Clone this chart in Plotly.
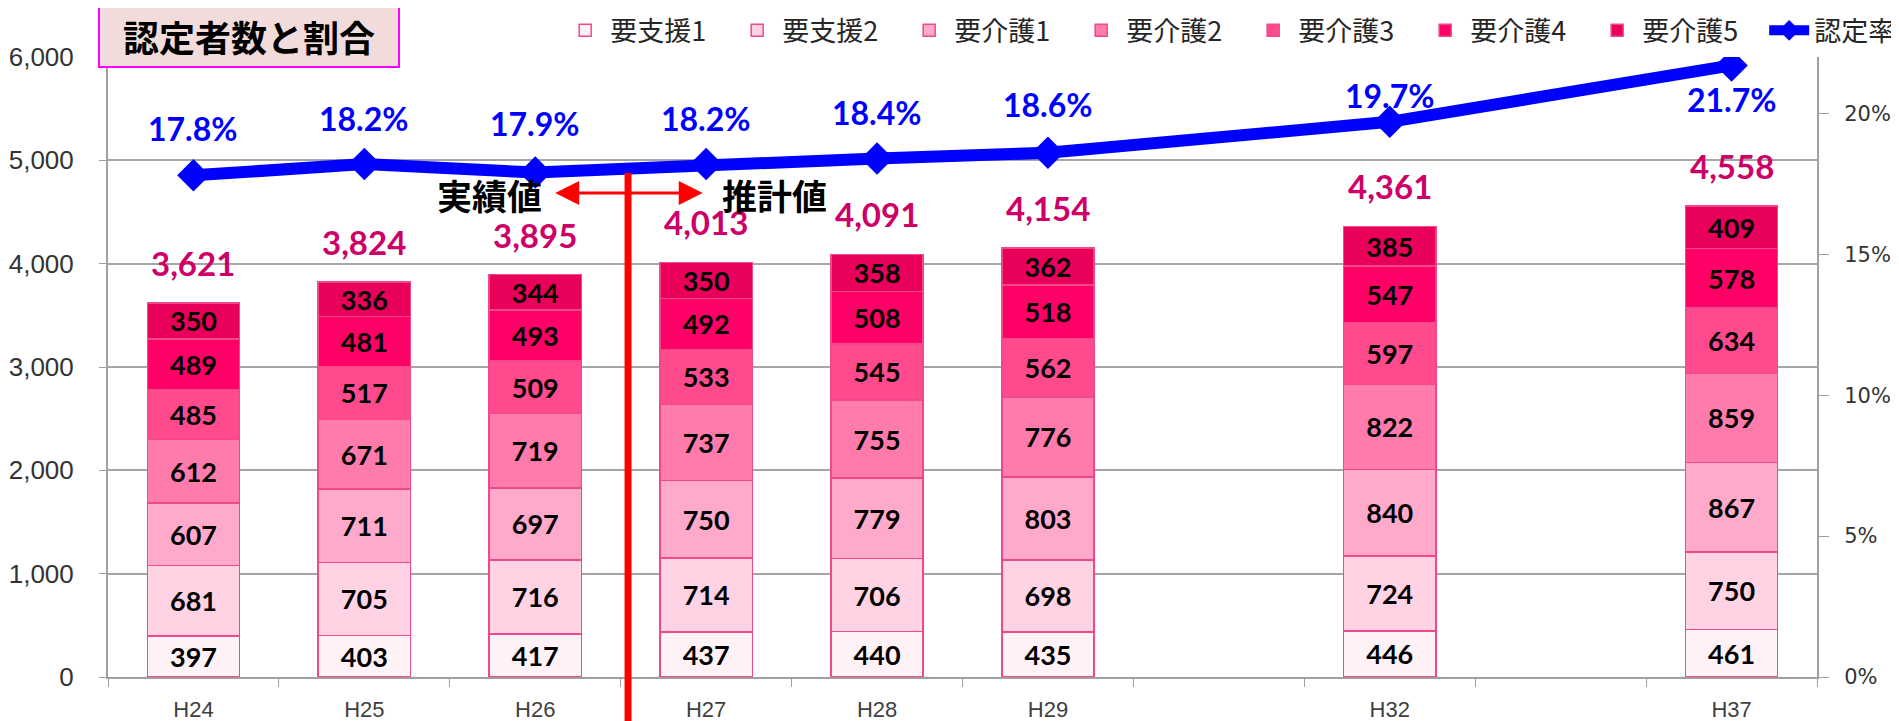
import numpy as np
import plotly.graph_objects as go

# ---------------- data ----------------
slots = ["H24", "H25", "H26", "H27", "H28", "H29", " ", "H32", "  ", "H37"]
years = ["H24", "H25", "H26", "H27", "H28", "H29", "H32", "H37"]

series_names = ["要支援1", "要支援2", "要介護1", "要介護2", "要介護3", "要介護4", "要介護5"]
shien1 = [397, 403, 417, 437, 440, 435, 446, 461]
shien2 = [681, 705, 716, 714, 706, 698, 724, 750]
kaigo1 = [607, 711, 697, 750, 779, 803, 840, 867]
kaigo2 = [612, 671, 719, 737, 755, 776, 822, 859]
kaigo3 = [485, 517, 509, 533, 545, 562, 597, 634]
kaigo4 = [489, 481, 493, 492, 508, 518, 547, 578]
kaigo5 = [350, 336, 344, 350, 358, 362, 385, 409]
rate_pct = [17.8, 18.2, 17.9, 18.2, 18.4, 18.6, 19.7, 21.7]
rate_name = "認定率"

series_values = [shien1, shien2, kaigo1, kaigo2, kaigo3, kaigo4, kaigo5]
totals = np.sum(np.array(series_values), axis=0)

# ---------------- style ----------------
colors = ["#FFF2F7", "#FFD3E4", "#FFA9CB", "#FF7BAC", "#FF4B8D", "#FF0066", "#E8005A"]
edge = "#F0488A"
pct_shift = [47, 46, 49, 46, 46, 48, 26, -34]
LAT = "Lato, Noto Sans CJK JP, sans-serif"
JP = "Noto Sans CJK JP, sans-serif"

# the page body adds an 8px margin, so the figure is 8px smaller than the window
W, H = 1891, 713

fig = go.Figure()
for name, vals, col in zip(series_names, series_values, colors):
    fig.add_trace(go.Bar(
        name=name, x=years, y=vals,
        marker=dict(color=col, line=dict(color=edge, width=1.5)),
        width=0.54,
        text=vals, texttemplate="%{text}", textposition="inside",
        insidetextanchor="middle", textangle=0, constraintext="none",
        textfont=dict(family=LAT, size=27, color="black", weight="bold"),
        hoverinfo="skip",
    ))

fig.add_trace(go.Scatter(
    name=rate_name, x=years, y=[v / 100 for v in rate_pct], yaxis="y2",
    mode="lines+markers",
    line=dict(color="#0000FF", width=12),
    marker=dict(symbol="diamond", size=25, color="#0000FF"),
    hoverinfo="skip",
))

annotations = []
for yr, tot in zip(years, totals):
    annotations.append(dict(
        x=yr, y=int(tot), xref="x", yref="y", text=f"{int(tot):,}",
        showarrow=False, yshift=40, yanchor="middle",
        font=dict(family=LAT, size=33, color="#CC0066", weight="bold"),
    ))
for yr, r, s in zip(years, rate_pct, pct_shift):
    annotations.append(dict(
        x=yr, y=r / 100, xref="x", yref="y2", text=f"{r:.1f}%",
        showarrow=False, yshift=s, yanchor="middle",
        font=dict(family=LAT, size=32, color="#0000FF", weight="bold"),
    ))

# title box
annotations.append(dict(
    xref="paper", yref="paper", x=-0.006, y=1.087, xanchor="left", yanchor="top",
    text="<b>認定者数と割合</b>", showarrow=False,
    font=dict(family=JP, size=36, color="black"),
    bgcolor="#F2DCDB", bordercolor="#FF00FF", borderwidth=2, borderpad=2,
    width=294, height=57, align="center", valign="middle",
))
# arrow between 実績値 and 推計値
annotations.append(dict(
    x=2.98, y=4684, xref="x", yref="y", ax=2.108, ay=4684, axref="x", ayref="y",
    text="", showarrow=True, arrowhead=2, arrowside="end+start",
    arrowsize=1.6, arrowwidth=3, arrowcolor="#FF0000",
))
annotations.append(dict(
    x=1.73, y=4670, xref="x", yref="y", text="<b>実績値</b>", showarrow=False,
    font=dict(family=JP, size=35, color="black"),
))
annotations.append(dict(
    x=3.40, y=4670, xref="x", yref="y", text="<b>推計値</b>", showarrow=False,
    font=dict(family=JP, size=35, color="black"),
))

shapes = [dict(
    type="line", xref="paper", yref="paper", x0=0.3043, x1=0.3043, y0=-0.12, y1=0.813,
    line=dict(color="#FF0000", width=7),
)]

fig.update_layout(
    width=W, height=H,
    margin=dict(l=100, r=82, t=49, b=44, autoexpand=False),
    barmode="stack",
    plot_bgcolor="white", paper_bgcolor="white",
    font=dict(family=LAT, color="#404040"),
    showlegend=True,
    legend=dict(
        orientation="h", xref="container", yref="container",
        x=0.292, xanchor="left", y=0.968, yanchor="middle",
        traceorder="normal", font=dict(family=JP, size=27, color="#262626"),
        itemwidth=40, entrywidth=117, entrywidthmode="pixels",
        bgcolor="rgba(0,0,0,0)",
    ),
    xaxis=dict(
        type="category", categoryorder="array", categoryarray=slots,
        range=[-0.5, len(slots) - 0.5],
        tickson="boundaries", ticks="outside", ticklen=8, tickcolor="#A0A0A0",
        showline=True, linecolor="#A0A0A0", linewidth=2, showgrid=False,
        ticklabelstandoff=12,
        tickfont=dict(family="Liberation Sans", size=22, color="#404040"),
    ),
    yaxis=dict(
        range=[0, 6000], dtick=1000, tickformat=",d",
        showgrid=True, gridcolor="#A6A6A6", gridwidth=1.5,
        showline=True, linecolor="#A0A0A0", linewidth=2,
        ticks="outside", ticklen=7, tickcolor="#A0A0A0",
        ticklabelstandoff=20,
        tickfont=dict(family="Liberation Sans", size=26, color="#333333"),
        zeroline=False,
    ),
    yaxis2=dict(
        overlaying="y", side="right", range=[0, 0.22], dtick=0.05, tickformat=".0%",
        showgrid=False, showline=True, linecolor="#A0A0A0", linewidth=2,
        ticks="outside", ticklen=10, tickcolor="#A0A0A0",
        ticklabelstandoff=11,
        tickfont=dict(family="DejaVu Sans", size=21, color="#333333"),
        zeroline=False,
    ),
    annotations=annotations,
    shapes=shapes,
)

fig.write_html("out.html")
